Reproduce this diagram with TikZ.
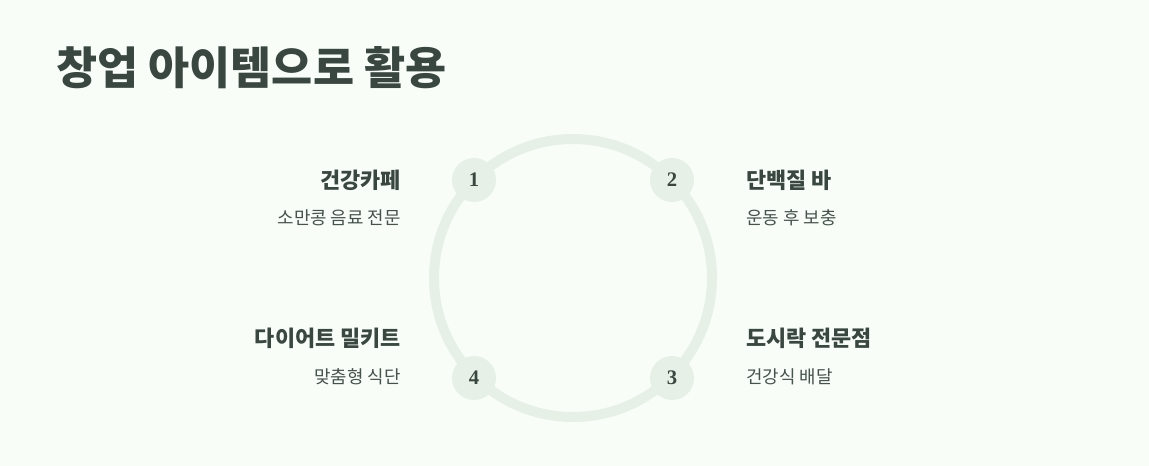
\documentclass[tikz,border=0pt]{standalone}
\usepackage{fontspec}
\newfontfamily\kr{Noto Sans CJK KR}
\newfontfamily\numfont{Liberation Serif}
\definecolor{bgmint}{HTML}{F8FDF8}
\definecolor{ringgreen}{HTML}{E6F0E6}
\definecolor{darktext}{HTML}{3A4740}
\definecolor{subtext}{HTML}{46524B}
\begin{document}
\begin{tikzpicture}[x=0.75pt, y=-0.75pt,
    numdot/.style={circle, fill=ringgreen, minimum size=33pt, inner sep=0pt,
      text=darktext, font=\numfont\bfseries\fontsize{15.5}{17}\selectfont},
    headtext/.style={inner sep=0pt, text=darktext, font=\kr\bfseries\fontsize{16.4}{19}\selectfont},
    subtitle/.style={inner sep=0pt, text=subtext, font=\kr\fontsize{13.4}{16}\selectfont}]
        \fill[bgmint] (0, 0) rectangle (1149, 466);
        \useasboundingbox (0, 0) rectangle (1149, 466);

        \node[anchor=west, inner sep=0pt, text=darktext, font=\kr\bfseries\fontsize{33.5}{40}\selectfont]
            (title) at (56, 68) {창업 아이템으로 활용};

        \coordinate (hub) at (573, 278);
        \draw[ringgreen, line width=7.5pt] (hub) circle[radius=104.25pt];

        \node[numdot] (n1) at (474, 180) {1};
        \node[numdot] (n2) at (672, 180) {2};
        \node[numdot] (n3) at (672, 378) {3};
        \node[numdot] (n4) at (474, 378) {4};

        \node[headtext, anchor=east] (cafe) at (401, 180) {건강카페};
        \node[subtitle, anchor=east] (cafesub) at (401, 218) {소만콩 음료 전문};
        \node[headtext, anchor=west] (bar) at (746, 180) {단백질 바};
        \node[subtitle, anchor=west] (barsub) at (746, 218) {운동 후 보충};
        \node[headtext, anchor=west] (lunch) at (746, 338) {도시락 전문점};
        \node[subtitle, anchor=west] (lunchsub) at (746, 377) {건강식 배달};
        \node[headtext, anchor=east] (kit) at (401, 338) {다이어트 밀키트};
        \node[subtitle, anchor=east] (kitsub) at (401, 377) {맞춤형 식단};
    \end{tikzpicture}
\end{document}
